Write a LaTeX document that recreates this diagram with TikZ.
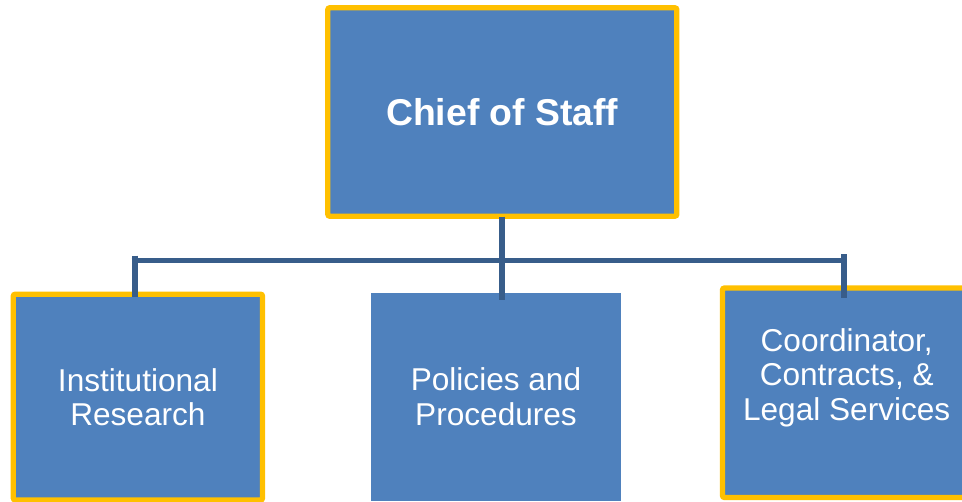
\documentclass[tikz,border=0pt]{standalone}
\usepackage{fontspec}
\setmainfont{Liberation Sans}
\definecolor{boxblue}{HTML}{4F81BD}
\definecolor{boxgold}{HTML}{FFC000}
\definecolor{linkblue}{HTML}{385D8A}
\begin{document}
\begin{tikzpicture}[x=0.75pt,y=-0.75pt,
  orgbox/.style={rectangle, fill=boxblue, inner sep=0pt, outer sep=0pt, text=white, align=center},
  goldedge/.style={draw=boxgold, line width=4pt, rounded corners=1.5pt},
  lowtext/.style={font=\fontsize{23.7}{25.9}\selectfont},
  lbl/.style={inner sep=0pt, text=white, align=center, lowtext},
  link/.style={draw=linkblue, line width=4.3pt, line cap=butt}]
\useasboundingbox (0,0) rectangle (962,502);
% boxes
\node[orgbox, goldedge, minimum width=261.75pt, minimum height=156.3pt,
      font=\fontsize{28}{33}\selectfont\bfseries] (chief) at (502.3,112) {Chief of Staff};
\node[orgbox, goldedge, lowtext, minimum width=186.9pt, minimum height=154.35pt] (inst) at (137.9,397.1) {Institutional\\Research};
\node[orgbox, lowtext, minimum width=187.5pt, minimum height=155.8pt] (pol) at (496,396.85) {Policies and\\Procedures};
\node[orgbox, goldedge, minimum width=189.4pt, minimum height=157.1pt] (coord) at (848.75,392.75) {};
\node[lbl] (coordtxt) at (846.7,377.6) {Coordinator,\\Contracts, \&\\Legal Services};
% connector points
\coordinate (cs) at (502,216.7);
\coordinate (cm) at (502,299.5);
\coordinate (lt) at (134.7,255.7);
\coordinate (lb) at (134.7,296.7);
\coordinate (rt) at (844,254);
\coordinate (rb) at (844,298);
\coordinate (hl) at (131.7,260.5);
\coordinate (hr) at (847,260.5);
% connectors
\path[link] (hl) -- (hr);
\path[link] (cs) -- (cm);
\path[link] (lt) -- (lb);
\path[link] (rt) -- (rb);
\end{tikzpicture}
\end{document}
